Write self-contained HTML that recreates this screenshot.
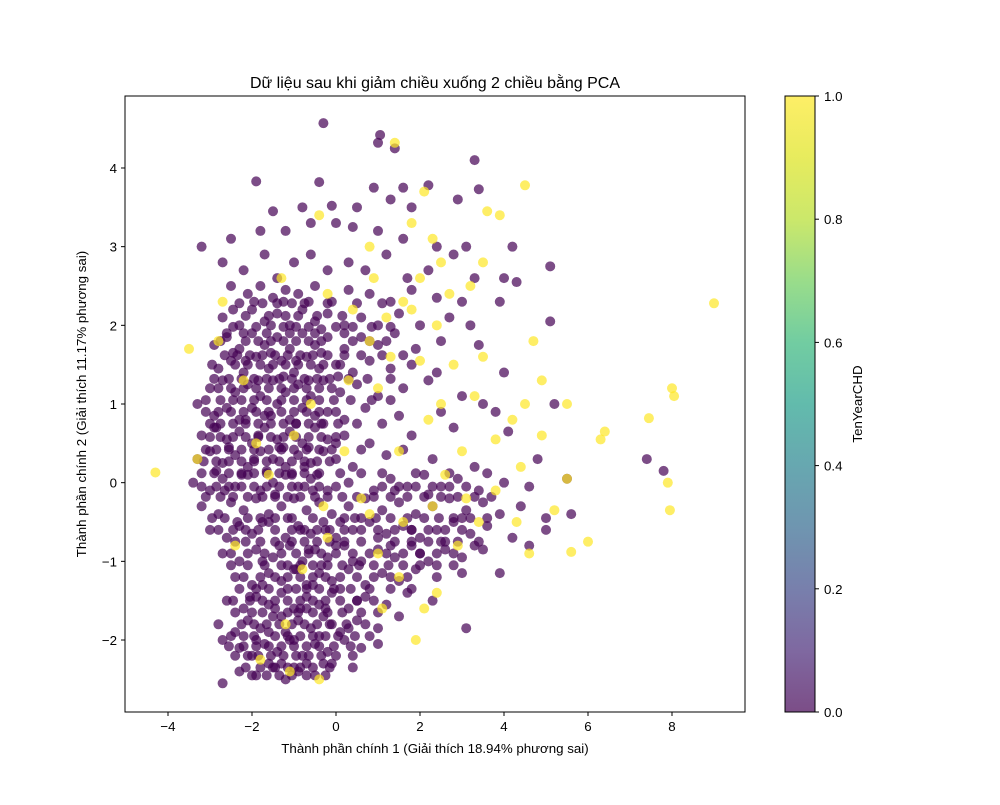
<!DOCTYPE html>
<html><head><meta charset="utf-8"><style>
html,body{margin:0;padding:0;background:#fff;}
svg text{font-family:"Liberation Sans","DejaVu Sans",sans-serif;fill:#000;}
</style></head><body>
<svg id="chart" width="1000" height="800" xmlns="http://www.w3.org/2000/svg">
<defs>
<linearGradient id="vir" x1="0" y1="1" x2="0" y2="0">
<stop offset="0" stop-color="#440154"/><stop offset="0.1" stop-color="#482878"/><stop offset="0.2" stop-color="#3e4989"/><stop offset="0.3" stop-color="#31688e"/><stop offset="0.4" stop-color="#26828e"/><stop offset="0.5" stop-color="#1f9e89"/><stop offset="0.6" stop-color="#35b779"/><stop offset="0.7" stop-color="#6ece58"/><stop offset="0.8" stop-color="#b5de2b"/><stop offset="0.9" stop-color="#dde318"/><stop offset="1" stop-color="#fde725"/>
</linearGradient>
<clipPath id="pc"><rect x="125" y="96" width="620" height="616"/></clipPath>
</defs>
<text x="435" y="88" font-size="16" text-anchor="middle">Dữ liệu sau khi giảm chiều xuống 2 chiều bằng PCA</text>
<g id="points" clip-path="url(#pc)"></g>
<rect x="125" y="96" width="620" height="616" fill="none" stroke="#000" stroke-width="1"/>
<g id="axes"></g>
<text x="435" y="753" font-size="13.3" text-anchor="middle">Thành phần chính 1 (Giải thích 18.94% phương sai)</text>
<text x="0" y="0" font-size="13.3" text-anchor="middle" transform="translate(86,404) rotate(-90)">Thành phần chính 2 (Giải thích 11.17% phương sai)</text>
<rect x="785" y="96" width="30" height="616" fill="url(#vir)" opacity="0.7"/>
<rect x="785" y="96" width="30" height="616" fill="none" stroke="#000" stroke-width="1"/>
<g id="cbticks"></g>
<text x="0" y="0" font-size="13.3" text-anchor="middle" transform="translate(862,404) rotate(-90)">TenYearCHD</text>
</svg>
<script>
const xTicks = [-4,-2,0,2,4,6,8];
const yTicks = [-2,-1,0,1,2,3,4];
const cbTicks = ["0.0","0.2","0.4","0.6","0.8","1.0"];
const purplePoints = [
[-1.9,3.83],[-0.4,3.82],[0.9,3.75],[1.6,3.75],[2.2,3.78],[3.4,3.73],
[-0.3,4.57],[1.05,4.42],[1.0,4.32],[1.4,4.25],[3.3,4.1],
[-1.5,3.45],[-0.8,3.5],[-0.1,3.52],[0.5,3.5],[1.3,3.6],[1.8,3.5],[2.9,3.6],
[-3.2,3.0],[-2.5,3.1],[-1.8,3.2],[-1.2,3.2],[-0.6,3.3],[0,3.3],[0.4,3.25],[1.0,3.2],[1.6,3.1],[2.4,3.0],[3.1,3.0],[4.2,3.0],
[-2.7,2.8],[-2.2,2.7],[-1.7,2.9],[-1.4,2.6],[-1.0,2.8],[-0.6,2.9],[-0.2,2.7],[0.3,2.8],[0.7,2.7],[1.2,2.9],[1.7,2.6],[2.2,2.7],[2.8,2.9],[3.3,2.6],[4.0,2.6],[5.1,2.75],
[-2.5,2.5],[-2.1,2.4],[-1.8,2.5],[-1.5,2.35],[-1.2,2.45],[-0.9,2.4],[-0.5,2.5],[-0.1,2.3],[0.3,2.45],[0.8,2.4],[1.3,2.3],[1.8,2.45],[2.4,2.35],[3.0,2.3],[3.9,2.3],[4.3,2.55],
[-2.7,2.1],[-2.3,2.0],[-2.0,2.2],[-1.7,2.05],[-1.4,2.15],[-1.1,2.0],[-0.8,2.2],[-0.5,2.05],[-0.2,2.15],[0.2,2.0],[0.6,2.1],[1.0,2.0],[1.5,2.15],[2.0,2.0],[2.7,2.1],[3.2,2.0],[5.1,2.05],
[-2.9,1.75],[-2.6,1.85],[-2.3,1.7],[-2.0,1.9],[-1.7,1.75],[-1.4,1.85],[-1.1,1.7],[-0.8,1.9],[-0.5,1.75],[-0.2,1.85],[0.2,1.7],[0.6,1.85],[1.0,1.75],[1.4,1.9],[1.9,1.7],[2.5,1.8],[3.4,1.75],
[-2.8,1.45],[-2.5,1.55],[-2.2,1.4],[-1.9,1.6],[-1.6,1.45],[-1.3,1.55],[-1.0,1.4],[-0.7,1.6],[-0.4,1.45],[0,1.5],[0.4,1.4],[0.8,1.55],[1.3,1.45],[1.8,1.5],[2.4,1.4],[4.0,1.4],
[-3.0,1.2],[-2.7,1.3],[-2.4,1.15],[-2.1,1.25],[-1.8,1.1],[-1.5,1.3],[-1.2,1.15],[-0.9,1.25],[-0.6,1.1],[-0.3,1.3],[0.1,1.15],[0.5,1.25],[1.0,1.1],[1.6,1.2],[2.2,1.3],[3.0,1.1],[3.5,1.0],
[-3.3,1.0],[-2.9,0.85],[-2.6,0.95],[-2.3,0.8],[-2.0,0.95],[-1.7,0.85],[-1.4,1.0],[-1.1,0.8],[-0.8,0.95],[-0.5,0.85],[-0.2,0.9],[0.2,0.8],[0.7,0.95],[1.5,0.85],[2.5,0.9],[3.8,0.9],[5.2,1.0],
[-3.2,0.6],[-2.9,0.7],[-2.6,0.55],[-2.3,0.65],[-2.0,0.5],[-1.7,0.7],[-1.4,0.55],[-1.1,0.65],[-0.8,0.5],[-0.5,0.7],[-0.2,0.55],[0.2,0.6],[0.8,0.5],[1.8,0.6],[2.8,0.7],[4.1,0.65],
[-3.3,0.3],[-3.0,0.4],[-2.7,0.25],[-2.4,0.35],[-2.1,0.2],[-1.8,0.4],[-1.5,0.3],[-1.2,0.2],[-0.9,0.35],[-0.6,0.25],[-0.3,0.4],[0,0.3],[0.4,0.2],[1.2,0.35],[2.3,0.3],[3.3,0.2],[4.8,0.3],[7.4,0.3],[7.8,0.15],
[-3.4,0.0],[-3.0,-0.1],[-2.7,0.05],[-2.4,-0.05],[-2.1,0.1],[-1.8,-0.1],[-1.5,0.0],[-1.2,0.1],[-0.9,-0.05],[-0.6,0.05],[-0.2,-0.1],[0.3,0.0],[0.9,-0.1],[1.3,0.05],[1.7,-0.05],[2.1,0.1],[2.5,-0.05],[2.9,0.05],[3.4,-0.1],[4.0,0.0],[4.6,-0.05],[5.5,0.05],
[-3.2,-0.3],[-2.8,-0.4],[-2.5,-0.25],[-2.2,-0.35],[-1.9,-0.2],[-1.6,-0.4],[-1.3,-0.3],[-1.0,-0.2],[-0.7,-0.35],[-0.4,-0.25],[-0.1,-0.4],[0.3,-0.3],[0.7,-0.2],[1.1,-0.35],[1.5,-0.25],[1.9,-0.4],[2.3,-0.3],[2.7,-0.2],[3.1,-0.35],[3.5,-0.25],[3.9,-0.4],[4.4,-0.3],[5.0,-0.45],[5.6,-0.4],
[-3.0,-0.6],[-2.6,-0.7],[-2.3,-0.55],[-2.0,-0.65],[-1.6,-0.5],[-1.2,-0.7],[-0.9,-0.55],[-0.6,-0.65],[-0.3,-0.5],[0,-0.7],[0.4,-0.6],[0.8,-0.5],[1.2,-0.65],[1.6,-0.55],[2.0,-0.7],[2.4,-0.6],[2.8,-0.5],[3.2,-0.65],[3.6,-0.55],[4.2,-0.7],[5.0,-0.6],
[-2.7,-0.9],[-2.3,-1.0],[-1.9,-0.85],[-1.5,-0.95],[-1.1,-0.8],[-0.8,-1.0],[-0.5,-0.85],[-0.2,-0.95],[0.2,-0.8],[0.6,-1.0],[1.0,-0.85],[1.4,-0.95],[1.8,-0.8],[2.2,-1.0],[2.6,-0.85],[3.0,-0.95],[3.5,-0.85],[4.6,-0.8],
[-2.4,-1.2],[-2.0,-1.3],[-1.6,-1.15],[-1.3,-1.25],[-1.0,-1.1],[-0.7,-1.3],[-0.4,-1.15],[-0.1,-1.25],[0.3,-1.1],[0.7,-1.3],[1.1,-1.15],[1.5,-1.25],[1.9,-1.1],[2.4,-1.2],[3.0,-1.15],[3.9,-1.15],
[-2.6,-1.5],[-2.2,-1.6],[-1.9,-1.45],[-1.6,-1.55],[-1.3,-1.4],[-1.0,-1.6],[-0.7,-1.45],[-0.4,-1.55],[-0.1,-1.4],[0.3,-1.6],[0.7,-1.45],[1.2,-1.55],[1.7,-1.4],[2.3,-1.5],
[-2.8,-1.8],[-2.4,-1.9],[-2.1,-1.75],[-1.8,-1.85],[-1.5,-1.7],[-1.2,-1.9],[-0.9,-1.75],[-0.6,-1.85],[-0.3,-1.7],[0.1,-1.9],[0.5,-1.75],[1.0,-1.85],[1.5,-1.7],[3.1,-1.85],
[-2.7,-2.0],[-2.3,-2.1],[-2.0,-2.2],[-1.7,-2.05],[-1.4,-2.15],[-1.1,-2.0],[-0.8,-2.2],[-0.5,-2.05],[-0.2,-2.15],[0.2,-2.0],[0.6,-2.1],[1.0,-2.05],
[-2.7,-2.55],[-2.3,-2.4],[-1.9,-2.45],[-1.5,-2.35],[-1.2,-2.5],[-0.9,-2.4],[-0.5,-2.45],[-0.1,-2.3],[0.4,-2.35],
[-2.45,2.2],[-1.95,2.3],[-1.55,2.0],[-1.25,2.3],[-0.65,2.3],[-0.35,1.95],
[-2.45,1.65],[-2.15,1.55],[-1.85,1.3],[-1.55,1.65],[-1.25,1.35],[-0.95,1.55],[-0.65,1.3],[-0.35,1.65],[0.05,1.35],
[-2.85,0.7],[-2.45,1.05],[-2.15,0.8],[-1.85,0.6],[-1.55,0.85],[-1.25,0.45],[-0.95,0.75],[-0.65,0.45],[-0.35,0.75],[0.0,0.5],
[-2.85,0.15],[-2.55,0.45],[-2.25,0.1],[-1.95,0.3],[-1.65,0.15],[-1.35,0.45],[-1.05,0.1],[-0.75,0.2],[-0.45,0.1],
[-2.95,-0.45],[-2.65,-0.1],[-2.35,-0.5],[-1.75,-0.5],[-1.45,-0.15],[-1.15,-0.45],[-0.85,-0.6],[-0.55,-0.1],[-0.25,-0.6],[0.1,-0.5],
[0.6,-0.45],[1.0,-0.7],[1.4,-0.1],[1.8,-0.6],[2.2,-0.15],[2.6,-0.75],[3.0,-0.45],[3.3,-0.8],[2.0,-0.9],[1.3,-0.8],
[-1.75,-1.0],[-1.35,-0.8],[-0.95,-1.1],[-0.65,-0.85],[-0.35,-1.05],[0.0,-0.8],[0.4,-1.0],
[-2.05,-1.45],[-1.75,-1.3],[-1.45,-1.6],[-1.15,-1.35],[-0.85,-1.6],[-0.55,-1.3],[-0.25,-1.6],[0.1,-1.35],[0.5,-1.5],
[-2.2,-1.95],[-1.9,-2.0],[-1.6,-1.9],[-1.3,-1.7],[-1.0,-2.0],[-0.7,-1.6],[-0.4,-1.95],[-0.1,-1.8],[0.3,-1.85],
[-1.6,-2.3],[-1.3,-2.3],[-1.0,-2.35],[-0.7,-2.3],[-0.3,-2.3],
[-2.3,2.28],[-1.75,2.28],[-1.4,2.28],[-1.05,2.28],[-0.75,2.28],[-0.2,2.28],[0.5,2.28],[1.1,2.28],
[-2.45,1.98],[-1.9,1.98],[-1.25,1.98],[-0.95,1.98],[-0.65,1.98],[0.0,1.98],[0.4,1.98],[0.85,1.98],[1.3,1.98],
[-2.75,1.8],[-2.15,1.8],[-1.85,1.8],[-1.55,1.8],[-1.25,1.8],[-0.95,1.8],[-0.65,1.8],[-0.35,1.8],[0.4,1.8],[0.8,1.8],[1.2,1.8],
[-2.65,1.62],[-2.35,1.62],[-2.05,1.62],[-1.75,1.62],[-1.45,1.62],[-1.15,1.62],[-0.85,1.62],[-0.55,1.62],[-0.2,1.62],[0.2,1.62],[0.6,1.62],[1.1,1.62],[1.6,1.62],
[-2.9,1.32],[-2.55,1.32],[-2.25,1.32],[-1.95,1.32],[-1.65,1.32],[-1.35,1.32],[-1.05,1.32],[-0.75,1.32],[-0.45,1.32],[-0.15,1.32],[0.3,1.32],[0.75,1.32],[1.3,1.32],
[-3.1,1.05],[-2.75,1.05],[-2.25,1.05],[-1.95,1.05],[-1.65,1.05],[-1.3,1.05],[-1.0,1.05],[-0.7,1.05],[-0.4,1.05],[-0.05,1.05],[0.35,1.05],[0.85,1.05],[1.3,1.05],
[-3.0,0.75],[-2.75,0.75],[-2.45,0.75],[-2.15,0.75],[-1.85,0.75],[-1.55,0.75],[-1.25,0.75],[-0.95,0.75],[-0.65,0.75],[-0.3,0.75],[0.05,0.75],[0.5,0.75],[1.1,0.75],
[-3.1,0.42],[-2.85,0.42],[-2.55,0.42],[-2.25,0.42],[-1.95,0.42],[-1.6,0.42],[-1.3,0.42],[-1.0,0.42],[-0.7,0.42],[-0.4,0.42],[-0.1,0.42],[0.6,0.42],[1.6,0.42],
[-3.2,0.12],[-2.9,0.12],[-2.55,0.12],[-2.25,0.12],[-1.95,0.12],[-1.65,0.12],[-1.35,0.12],[-1.05,0.12],[-0.75,0.12],[-0.4,0.12],[0.1,0.12],[0.6,0.12],[1.1,0.12],[1.9,0.12],[2.7,0.12],[3.6,0.12],
[-3.1,-0.18],[-2.75,-0.18],[-2.45,-0.18],[-2.1,-0.18],[-1.75,-0.18],[-1.45,-0.18],[-1.15,-0.18],[-0.85,-0.18],[-0.5,-0.18],[-0.2,-0.18],[0.15,-0.18],[0.5,-0.18],[0.9,-0.18],[1.3,-0.18],[1.7,-0.18],[2.1,-0.18],[2.5,-0.18],[2.9,-0.18],[3.3,-0.18],[3.7,-0.18],
[-2.65,-0.45],[-2.1,-0.45],[-1.8,-0.45],[-1.45,-0.45],[-1.05,-0.45],[-0.55,-0.45],[0.2,-0.45],[0.45,-0.45],[0.95,-0.45],[1.3,-0.45],[1.7,-0.45],[2.1,-0.45],[2.45,-0.45],[2.8,-0.45],[3.2,-0.45],[3.6,-0.45],
[-2.4,-0.75],[-2.15,-0.75],[-1.8,-0.75],[-1.45,-0.75],[-1.05,-0.75],[-0.75,-0.75],[-0.45,-0.75],[-0.15,-0.75],[0.2,-0.75],[0.6,-0.75],[1.4,-0.75],[1.8,-0.75],[2.2,-0.75],[2.5,-0.75],[2.9,-0.75],[3.4,-0.75],
[-2.5,-1.05],[-2.1,-1.05],[-1.7,-1.05],[-1.3,-1.05],[-1.15,-1.05],[-0.85,-1.05],[-0.55,-1.05],[-0.2,-1.05],[0.15,-1.05],[0.55,-1.05],[0.9,-1.05],[1.25,-1.05],[1.6,-1.05],[2.0,-1.05],[2.4,-1.05],[2.8,-1.05],
[-2.3,-1.35],[-1.9,-1.35],[-1.6,-1.35],[-0.95,-1.35],[-0.7,-1.35],[-0.4,-1.35],[-0.05,-1.35],[0.35,-1.35],[0.8,-1.35],[1.3,-1.35],[1.8,-1.35],
[-2.4,-1.65],[-2.0,-1.65],[-1.75,-1.65],[-1.15,-1.65],[-0.9,-1.65],[-0.55,-1.65],[-0.2,-1.65],[0.15,-1.65],[0.6,-1.65],[1.0,-1.65],
[-2.5,-1.95],[-1.95,-1.95],[-1.45,-1.95],[-1.15,-1.95],[-0.85,-1.95],[-0.55,-1.95],[-0.25,-1.95],[0.05,-1.95],[0.45,-1.95],[0.8,-1.95],
[-2.4,-2.2],[-2.1,-2.2],[-1.85,-2.2],[-1.55,-2.2],[-1.25,-2.2],[-0.95,-2.2],[-0.65,-2.2],[-0.35,-2.2],[0.0,-2.2],[0.4,-2.2],
[-2.0,-2.45],[-1.65,-2.45],[-1.35,-2.45],[-1.05,-2.45],[-0.7,-2.45],[-0.25,-2.45],
[-2.15,2.12],[-1.6,2.12],[-1.2,2.12],[-0.9,2.12],[-0.45,2.12],[0.15,2.12],
[-2.6,1.9],[-2.2,1.9],[-1.65,1.9],[-1.1,1.9],[-0.5,1.9],[0.2,1.9],
[-2.95,1.5],[-2.4,1.5],[-2.1,1.5],[-1.8,1.5],[-1.5,1.5],[-1.2,1.5],[-0.9,1.5],[-0.6,1.5],[-0.3,1.5],[0.1,1.5],
[-2.8,1.2],[-2.5,1.2],[-2.2,1.2],[-1.9,1.2],[-1.6,1.2],[-1.3,1.2],[-1.0,1.2],[-0.7,1.2],[-0.4,1.2],[-0.1,1.2],
[-3.1,0.9],[-2.8,0.9],[-2.5,0.9],[-2.2,0.9],[-1.9,0.9],[-1.6,0.9],[-1.3,0.9],[-1.0,0.9],[-0.7,0.9],[-0.4,0.9],[0.0,0.9],
[-3.0,0.58],[-2.75,0.58],[-2.45,0.58],[-2.15,0.58],[-1.85,0.58],[-1.55,0.58],[-1.25,0.58],[-0.95,0.58],[-0.65,0.58],[-0.35,0.58],[0.0,0.58],
[-3.15,0.27],[-2.85,0.27],[-2.55,0.27],[-2.25,0.27],[-1.95,0.27],[-1.65,0.27],[-1.35,0.27],[-1.05,0.27],[-0.75,0.27],[-0.45,0.27],[-0.15,0.27],
[-3.2,-0.05],[-2.85,-0.05],[-2.55,-0.05],[-2.25,-0.05],[-1.95,-0.05],[-1.65,-0.05],[-1.35,-0.05],[-1.05,-0.05],[-0.75,-0.05],[-0.4,-0.05],[0.0,-0.05],[1.1,-0.05],[1.5,-0.05],[1.9,-0.05],[2.3,-0.05],[2.7,-0.05],[3.1,-0.05],
[-2.8,-0.6],[-2.45,-0.6],[-2.15,-0.6],[-1.85,-0.6],[-1.45,-0.6],[-1.05,-0.6],[-0.75,-0.6],[-0.45,-0.6],[-0.15,-0.6],[0.2,-0.6],[0.6,-0.6],[1.0,-0.6],[1.4,-0.6],[1.8,-0.6],[2.2,-0.6],[2.6,-0.6],[3.0,-0.6],
[-2.5,-0.9],[-2.1,-0.9],[-1.7,-0.9],[-1.3,-0.9],[-0.95,-0.9],[-0.65,-0.9],[-0.35,-0.9],[0.0,-0.9],[0.4,-0.9],[0.8,-0.9],[1.2,-0.9],[1.6,-0.9],[2.0,-0.9],[2.4,-0.9],[2.8,-0.9],
[-2.2,-1.2],[-1.8,-1.2],[-1.45,-1.2],[-1.15,-1.2],[-0.85,-1.2],[-0.55,-1.2],[-0.25,-1.2],[0.1,-1.2],[0.5,-1.2],[0.9,-1.2],[1.3,-1.2],[1.7,-1.2],
[-2.45,-1.5],[-2.05,-1.5],[-1.75,-1.5],[-1.45,-1.5],[-1.15,-1.5],[-0.85,-1.5],[-0.55,-1.5],[-0.25,-1.5],[0.1,-1.5],[0.5,-1.5],[0.9,-1.5],
[-2.25,-1.8],[-1.95,-1.8],[-1.65,-1.8],[-1.35,-1.8],[-1.05,-1.8],[-0.75,-1.8],[-0.45,-1.8],[-0.15,-1.8],[0.25,-1.8],[0.7,-1.8],
[-2.55,-2.08],[-2.2,-2.08],[-1.9,-2.08],[-1.6,-2.08],[-1.3,-2.08],[-1.0,-2.08],[-0.7,-2.08],[-0.4,-2.08],[-0.05,-2.08],[0.35,-2.08],
[-2.15,-2.35],[-1.8,-2.35],[-1.45,-2.35],[-1.15,-2.35],[-0.85,-2.35],[-0.55,-2.35],[-0.15,-2.35]
];
const yellowPoints = [
[-4.3,0.13],[-3.5,1.7],[-2.7,2.3],[-1.3,2.6],[-0.4,3.4],[0.8,3.0],[1.4,4.32],[1.8,3.3],[2.1,3.7],[2.3,3.1],[2.5,2.8],[2.0,2.6],[1.6,2.3],[1.2,2.1],[2.7,2.4],[3.2,2.5],[3.5,2.8],[3.9,3.4],[4.5,3.78],[3.6,3.45],[4.7,1.8],[4.9,1.3],[4.5,1.0],[5.5,1.0],[6.3,0.55],[6.4,0.65],[7.45,0.82],[8.0,1.2],[8.05,1.1],[9.0,2.28],[7.9,0.0],[7.95,-0.35],[6.0,-0.75],[5.6,-0.88],[5.2,-0.35],[4.9,0.6],[4.4,0.2],[3.8,0.55],[3.0,0.4],[2.5,1.0],[2.0,1.55],[1.3,1.6],[0.8,1.8],[0.4,2.2],[2.8,1.5],[3.3,1.1],[2.9,-0.8],[2.4,-1.4],[2.1,-1.6],[1.9,-2.0],[1.5,-1.2],[1.0,-0.9],[1.6,-0.5],[2.3,-0.3],[3.1,-0.2],[3.8,-0.1],[4.3,-0.5],[4.6,-0.9],[-1.8,-2.25],[-1.1,-2.4],[-0.4,-2.5],[-0.8,-1.1],[-1.6,0.1],[-1.0,0.6],[-2.2,1.3],[-0.6,1.0],[-1.9,0.5],[0.2,0.4],[0.6,-0.2],[-0.3,-0.3],[-2.4,-0.8],[-3.3,0.3],[1.5,0.4],[2.6,0.1],[0.9,2.6],[-0.2,2.4],[0.3,1.3],[1.1,-1.6],[0.8,-0.4],[3.4,-0.5],[5.5,0.05],[4.2,0.8],[3.5,1.6],[2.2,0.8],[1.8,2.2],[2.4,2.0],[1.0,1.2],[-1.2,-1.8],[-0.2,-0.7],[-2.8,1.8]
];
const NS = "http://www.w3.org/2000/svg";
const X0 = 125, X1 = 745, Y0 = 96, Y1 = 712;
const xmin = -5.024, xmax = 9.738, ymin = -2.915, ymax = 4.915;
function sx(v){ return X0 + (v - xmin) / (xmax - xmin) * (X1 - X0); }
function sy(v){ return Y1 - (v - ymin) / (ymax - ymin) * (Y1 - Y0); }
const pg = document.getElementById('points');
function drawPts(arr, color, name){
  arr.forEach(p => {
    const c = document.createElementNS(NS, 'circle');
    c.setAttribute('cx', sx(p[0]));
    c.setAttribute('cy', sy(p[1]));
    c.setAttribute('r', 5);
    c.setAttribute('fill', color);
    c.setAttribute('fill-opacity', 0.7);
    
    
    pg.appendChild(c);
  });
}
drawPts(purplePoints, '#440154', 'point-no-chd');
drawPts(yellowPoints, '#fde725', 'point-chd');
const ax = document.getElementById('axes');
xTicks.forEach(t => {
  const x = sx(t);
  const l = document.createElementNS(NS, 'line');
  l.setAttribute('x1', x); l.setAttribute('x2', x); l.setAttribute('y1', Y1); l.setAttribute('y2', Y1 + 4);
  l.setAttribute('stroke', '#000');
  
  
  ax.appendChild(l);
  const tx = document.createElementNS(NS, 'text');
  tx.setAttribute('x', x); tx.setAttribute('y', Y1 + 19); tx.setAttribute('font-size', '13.3'); tx.setAttribute('text-anchor', 'middle');
  tx.textContent = t < 0 ? '\u2212' + Math.abs(t) : String(t);
  
  
  ax.appendChild(tx);
});
yTicks.forEach(t => {
  const y = sy(t);
  const l = document.createElementNS(NS, 'line');
  l.setAttribute('x1', X0 - 4); l.setAttribute('x2', X0); l.setAttribute('y1', y); l.setAttribute('y2', y);
  l.setAttribute('stroke', '#000');
  
  
  ax.appendChild(l);
  const tx = document.createElementNS(NS, 'text');
  tx.setAttribute('x', X0 - 8); tx.setAttribute('y', y + 5); tx.setAttribute('font-size', '13.3'); tx.setAttribute('text-anchor', 'end');
  tx.textContent = t < 0 ? '\u2212' + Math.abs(t) : String(t);
  
  
  ax.appendChild(tx);
});
const cb = document.getElementById('cbticks');
cbTicks.forEach(t => {
  const y = 712 - parseFloat(t) * 616;
  const l = document.createElementNS(NS, 'line');
  l.setAttribute('x1', 815); l.setAttribute('x2', 819); l.setAttribute('y1', y); l.setAttribute('y2', y);
  l.setAttribute('stroke', '#000');
  
  
  cb.appendChild(l);
  const tx = document.createElementNS(NS, 'text');
  tx.setAttribute('x', 824); tx.setAttribute('y', y + 5); tx.setAttribute('font-size', '13.3');
  tx.textContent = t;
  
  
  cb.appendChild(tx);
});
</script>
</body></html>
